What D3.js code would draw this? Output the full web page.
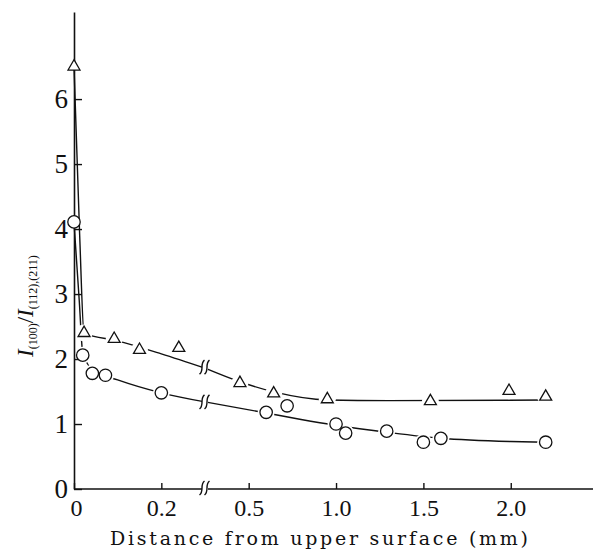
<!DOCTYPE html>
<html>
<head>
<meta charset="utf-8">
<script src="https://cdn.jsdelivr.net/npm/d3@7"></script>
<style>
  body { margin: 0; background: #fff; }
</style>
</head>
<body>
<svg id="chart" width="595" height="550"></svg>
<script>
// measured points, distance in mm
var triX = [0, 0.023, 0.092, 0.15, 0.24, 0.45, 0.643, 0.95, 1.54, 1.99, 2.2];
var triY = [6.5, 2.40, 2.31, 2.14, 2.17, 1.63, 1.47, 1.38, 1.35, 1.51, 1.42];
var cirX = [0, 0.02, 0.042, 0.072, 0.2, 0.60, 0.72, 1.0, 1.055, 1.29, 1.5, 1.6, 2.2];
var cirY = [4.11, 2.06, 1.78, 1.75, 1.48, 1.18, 1.28, 1.00, 0.86, 0.89, 0.72, 0.78, 0.72];

// hand drawn fit curves (left of break / right of break)
var triFitLeft = [[0, 6.5], [0.013, 3.9], [0.023, 2.4], [0.1, 2.28], [0.2, 2.08], [0.3, 1.86]];
var triFitRight = [[0.25, 1.86], [0.45, 1.65], [0.65, 1.49], [0.95, 1.37], [1.3, 1.36], [2.2, 1.37]];
var cirFitLeft = [[0, 4.1], [0.012, 2.9], [0.02, 2.1], [0.045, 1.82], [0.1, 1.68], [0.2, 1.48], [0.3, 1.34]];
var cirFitRight = [[0.25, 1.34], [0.6, 1.17], [0.8, 1.07], [1.0, 0.98], [1.3, 0.87], [1.6, 0.78], [2.0, 0.73], [2.2, 0.72]];

var yTicks = [0, 1, 2, 3, 4, 5, 6];
var xTicksLeft = [0, 0.2];
var xLabelsLeft = ["0", "0.2"];
var xTicksRight = [0.5, 1.0, 1.5, 2.0];
var xLabelsRight = ["0.5", "1.0", "1.5", "2.0"];
var breakAt = 0.3;

var FONT = "'Liberation Serif', serif";
var svg = d3.select("#chart").style("font-family", FONT);

var xLeft = d3.scaleLinear().domain([0, 0.3]).range([74, 205]);
var xRight = d3.scaleLinear().domain([0.25, 2.2]).range([205, 545.7]);
var y = d3.scaleLinear().domain([0, 7.34]).range([489, 12]);
function X(d) { return d <= breakAt ? xLeft(d) : xRight(d); }

var line = function (sc) {
    return d3.line().x(function (d) { return sc(d[0]); }).y(function (d) { return y(d[1]); }).curve(d3.curveMonotoneX);
};

var curves = svg.append("g").attr("fill", "none").attr("stroke", "#111").attr("stroke-width", 1.4);
curves.append("path").attr("d", line(xLeft)(triFitLeft));
curves.append("path").attr("d", line(xRight)(triFitRight));
curves.append("path").attr("d", line(xLeft)(cirFitLeft));
curves.append("path").attr("d", line(xRight)(cirFitRight));

var tri = triX.map(function (d, i) { return [d, triY[i]]; });
var cir = cirX.map(function (d, i) { return [d, cirY[i]]; });

// white halos so the lines stop short of the markers
svg.append("g").selectAll("circle").data(tri.concat(cir).filter(function (d) { return d[0] > 0; }))
    .enter().append("circle")
    .attr("cx", function (d) { return X(d[0]); })
    .attr("cy", function (d) { return y(d[1]); })
    .attr("r", 8.5).attr("fill", "#fff");

// break marks
function brk(g, cx, cy) {
    g.append("rect").attr("x", cx - 3).attr("y", cy - 7).attr("width", 6).attr("height", 14).attr("fill", "#fff");
    [-2.5, 2.5].forEach(function (o) {
        g.append("path")
            .attr("d", "M" + (cx + o - 3) + "," + (cy + 7) + " C" + (cx + o + 2) + "," + (cy + 3) + " " + (cx + o - 3) + "," + (cy - 3) + " " + (cx + o + 2) + "," + (cy - 7))
            .attr("fill", "none").attr("stroke", "#111").attr("stroke-width", 1.4);
    });
}
var bg = svg.append("g");
brk(bg, xLeft(breakAt), y(1.86) - 1);
brk(bg, xLeft(breakAt), y(1.34));

// axes
var yAxis = d3.axisLeft(y).tickValues(yTicks).tickSizeInner(-8).tickSizeOuter(0).tickPadding(6);
var gy = svg.append("g").attr("transform", "translate(" + xLeft(0) + ",0)").call(yAxis);
gy.attr("font-family", null);
gy.select(".domain").attr("stroke", "#111").attr("stroke-width", 1.6);
gy.selectAll(".tick line").attr("stroke", "#111").attr("stroke-width", 1.4);
gy.selectAll(".tick text").style("font-size", "27px").style("font-family", FONT).attr("fill", "#111");

svg.append("line").attr("x1", xLeft(0)).attr("x2", 593).attr("y1", y(0)).attr("y2", y(0))
    .attr("stroke", "#111").attr("stroke-width", 1.6);

function xAxis(sc, vals, labs) {
    var a = d3.axisBottom(sc).tickValues(vals).tickSizeInner(-6).tickSizeOuter(0).tickPadding(10)
        .tickFormat(function (d, i) { return labs[i]; });
    var g = svg.append("g").attr("transform", "translate(0," + y(0) + ")").call(a);
    g.attr("font-family", null);
    g.select(".domain").remove();
    g.selectAll(".tick line").attr("stroke", "#111").attr("stroke-width", 1.4);
    g.selectAll(".tick text").style("font-size", "24px").style("font-family", FONT).attr("fill", "#111");
    return g;
}
var gxl = xAxis(xLeft, xTicksLeft, xLabelsLeft);
gxl.selectAll(".tick text").attr("x", function (d) { return d === 0 ? 2 : 0; });
xAxis(xRight, xTicksRight, xLabelsRight);
brk(bg.raise(), xLeft(breakAt), y(0) - 1);

// markers
svg.append("g").selectAll("path").data(tri).enter().append("path")
    .attr("transform", function (d) { return "translate(" + X(d[0]) + "," + y(d[1]) + ")"; })
    .attr("d", d3.symbol(d3.symbolTriangle, 62))
    .attr("fill", "#fff").attr("stroke", "#111").attr("stroke-width", 1.3);
svg.append("g").selectAll("circle").data(cir).enter().append("circle")
    .attr("cx", function (d) { return X(d[0]); })
    .attr("cy", function (d) { return y(d[1]); })
    .attr("r", 6.2)
    .attr("fill", "#fff").attr("stroke", "#111").attr("stroke-width", 1.3);

// axis titles
svg.append("text").attr("x", 110).attr("y", 545)
    .attr("textLength", 418).attr("lengthAdjust", "spacing")
    .style("font-size", "19px").style("font-family", "'DejaVu Serif', serif").attr("fill", "#111")
    .text("Distance from upper surface (mm)");

var yt = svg.append("text").attr("transform", "translate(33,357) rotate(-90)")
    .style("font-size", "23px").style("font-family", FONT).attr("fill", "#111");
yt.append("tspan").style("font-style", "italic").text("I");
yt.append("tspan").attr("dy", 4).style("font-size", "12px").text("(100)");
yt.append("tspan").attr("dy", -4).text("/");
yt.append("tspan").style("font-style", "italic").text("I");
yt.append("tspan").attr("dy", 4).style("font-size", "12px").text("(112),(211)");
</script>
</body>
</html>
